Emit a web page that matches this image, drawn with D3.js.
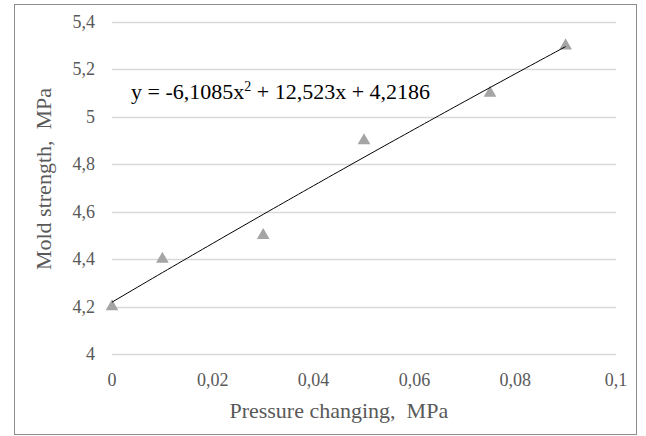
<!DOCTYPE html>
<html><head><meta charset="utf-8">
<script src="https://cdn.jsdelivr.net/npm/d3@7"></script>
<style>
html,body{margin:0;padding:0;background:#fff;}
#wrap{position:relative;width:646px;height:436px;overflow:hidden;}
#wrap svg{position:absolute;left:0;top:0;}
.lbl{position:absolute;white-space:pre;line-height:1;font-family:"Liberation Serif","Times New Roman",Tinos;}
</style>
</head><body>
<div id="wrap"><svg id="c" width="646" height="436"></svg></div>
<script>
const pressure = [0, 0.01, 0.03, 0.05, 0.075, 0.09];
const strength = [4.2, 4.4, 4.5, 4.9, 5.1, 5.3];
const xTicks = [0, 0.02, 0.04, 0.06, 0.08, 0.1];
const yTicks = [4, 4.2, 4.4, 4.6, 4.8, 5, 5.2, 5.4];
const trendCoef = [-6.1085, 12.523, 4.2186];
const equationText = ["y = -6,1085x", "2", " + 12,523x + 4,2186"];
const xTitle = "Pressure changing,  MPa";
const yTitle = "Mold strength,  MPa";

const wrap = d3.select("#wrap");
const svg = d3.select("#c");
svg.append("rect").attr("x",14.5).attr("y",4.5).attr("width",622).attr("height",430)
  .attr("fill","#fff").attr("stroke","#8c8c8c").attr("stroke-width",1);

const x = d3.scaleLinear().domain([0,0.1]).range([112,616]);
const y = d3.scaleLinear().domain([4,5.4]).range([354,22]);
const fmt = d => String(+d.toFixed(2)).replace(".", ",");

// gridlines
svg.append("g").selectAll("line").data(yTicks).join("line")
  .attr("x1",x(0)).attr("x2",x(0.1))
  .attr("y1",d=>Math.round(y(d))+0.5).attr("y2",d=>Math.round(y(d))+0.5)
  .attr("stroke","#d9d9d9").attr("stroke-width",1.3);

// tick labels (HTML text positioned by the scales)
wrap.selectAll("div.yt").data(yTicks).join("div").attr("class","lbl yt")
  .style("left", "95px").style("top", d => y(d) + "px")
  .style("transform","translate(-100%,-50%)")
  .style("font-size","18px").style("color","#595959").text(fmt);

wrap.selectAll("div.xt").data(xTicks).join("div").attr("class","lbl xt")
  .style("left", d => x(d) + "px").style("top", (y(4) + 26) + "px")
  .style("transform","translate(-50%,-50%)")
  .style("font-size","18px").style("color","#595959").text(fmt);

// axis titles
wrap.append("div").attr("class","lbl")
  .style("left", x(0.045) + "px").style("top","411px")
  .style("transform","translate(-50%,-50%)")
  .style("font-size","22px").style("color","#595959").text(xTitle);
wrap.append("div").attr("class","lbl")
  .style("left","44px").style("top", ((y(4)+y(5.4))/2 - 9) + "px")
  .style("transform","translate(-50%,-50%) rotate(-90deg)")
  .style("font-size","22px").style("color","#595959").text(yTitle);

// points
const tri = d3.symbol().type(d3.symbolTriangle).size(70);
svg.append("g").selectAll("path").data(pressure.map((p,i)=>[p,strength[i]])).join("path")
  .attr("d",tri).attr("transform",d=>`translate(${x(d[0])},${y(d[1])})`)
  .attr("fill","#a5a5a5");

// polynomial trend line
const xs = d3.range(0, 0.0901, 0.001);
const line = d3.line().x(d=>x(d)).y(d=>y(trendCoef[0]*d*d+trendCoef[1]*d+trendCoef[2]));
svg.append("path").datum(xs).attr("d",line).attr("fill","none").attr("stroke","#000").attr("stroke-width",1);

// equation
const eq = wrap.append("div").attr("class","lbl")
  .style("left","131px").style("top","91.5px").style("transform","translate(0,-50%)")
  .style("font-size","22px").style("color","#000");
eq.append("span").text(equationText[0]);
eq.append("span").style("font-size","14px").style("position","relative").style("top","-8px").text(equationText[1]);
eq.append("span").text(equationText[2]);
</script>
</body></html>
